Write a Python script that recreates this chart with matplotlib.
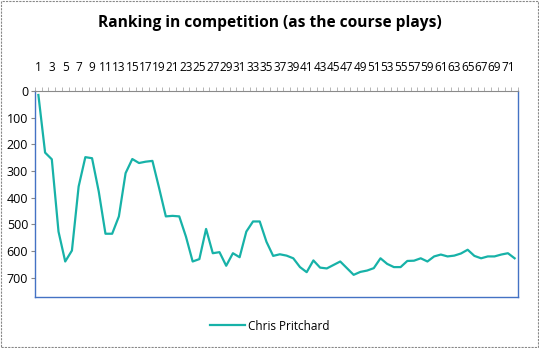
import numpy as np
import matplotlib.pyplot as plt
from matplotlib.patches import Rectangle

# ranking after each hole (1..72)
holes = list(range(1, 73))
ranking = [15, 231, 256, 527, 639, 598, 358, 248, 252, 377,
           535, 535, 470, 308, 255, 270, 265, 262, 364, 470,
           468, 470, 546, 639, 630, 517, 608, 604, 655, 608,
           623, 527, 489, 489, 565, 618, 612, 617, 627, 660,
           679, 635, 662, 665, 652, 639, 664, 689, 678, 673,
           664, 627, 648, 660, 660, 637, 636, 627, 639, 620,
           613, 620, 617, 609, 595, 618, 627, 620, 620, 613,
           608, 627]
player = 'Chris Pritchard'
yticks = [0, 100, 200, 300, 400, 500, 600, 700]

plt.rcParams['font.family'] = ['Open Sans', 'DejaVu Sans']

fig = plt.figure(figsize=(5.39, 3.48), dpi=100)
ax = fig.add_axes([0.065, 0.1466, 0.896, 0.592])

x = np.arange(len(holes))
ax.plot(x, ranking, color='#17B2A8', lw=1.6, label=player)

ax.set_xlim(-0.5, len(holes) - 0.5)
ax.set_ylim(772, 0)
ax.xaxis.tick_top()
ax.set_xticks(x[::2])
ax.set_xticklabels([str(h) for h in holes[::2]], fontsize=8.5)
ax.set_xticks(np.arange(-0.5, len(holes), 1), minor=True)
ax.tick_params(axis='x', which='major', length=0, pad=12)
ax.tick_params(axis='x', which='minor', length=3, color='#aaaaaa', direction='out')
ax.set_yticks(yticks)
ax.set_yticklabels([str(v) for v in yticks], fontsize=9)
ax.tick_params(axis='y', length=3, color='#888888', pad=2)

for s in ['left', 'right', 'bottom']:
    ax.spines[s].set_color('#4472C4')
    ax.spines[s].set_linewidth(1)
ax.spines['top'].set_color('#8a8a8a')
ax.spines['top'].set_linestyle((0, (1, 1)))

fig.text(0.5, 0.935, 'Ranking in competition (as the course plays)',
         ha='center', va='center', fontsize=11.2, fontweight='bold')

fig.legend(loc='center', bbox_to_anchor=(0.5, 0.063), frameon=False,
           fontsize=8.5, handlelength=3.0, handletextpad=0.2)

fig.patches.append(Rectangle((0.002, 0.003), 0.996, 0.994, transform=fig.transFigure,
                             fill=False, ec='#888888', lw=0.8, ls=(0, (2, 1))))

fig.savefig('out.png', dpi=100)
